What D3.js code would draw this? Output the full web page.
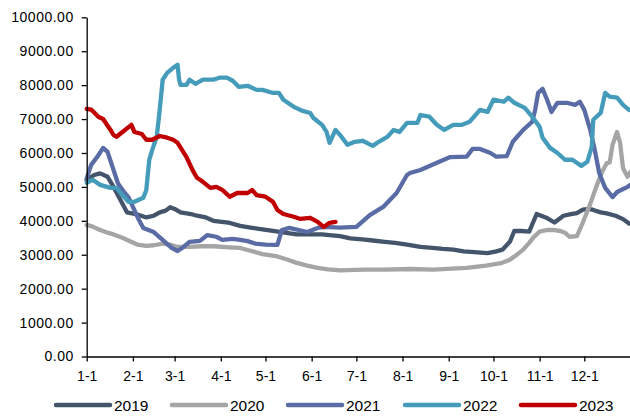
<!DOCTYPE html>
<html>
<head>
<meta charset="utf-8">
<script src="https://cdn.jsdelivr.net/npm/d3@7"></script>
<style>
  html, body { margin: 0; padding: 0; background: #fff; }
  svg { display: block; font-family: "Liberation Sans", Arial, sans-serif; }
</style>
</head>
<body>
<svg id="chart" width="630" height="417"></svg>
<script>
// ---- data (x = day of year, y = value) ----
const monthStarts = [0, 31, 59, 90, 120, 151, 181, 212, 243, 273, 304, 334];
const monthLabels = ["1-1","2-1","3-1","4-1","5-1","6-1","7-1","8-1","9-1","10-1","11-1","12-1"];
const yTicks = [0,1000,2000,3000,4000,5000,6000,7000,8000,9000,10000];

const seriesNames = ["2019","2020","2021","2022","2023"];
const seriesColors = ["#44546A","#A5A5A5","#5A6CA5","#459CBA","#C00000"];

const days2019 = [0,5,9,14,18,24,27,33,40,45,49,53,56,59,63,70,74,80,85,95,103,110,118,125,133,141,150,158,163,170,177,185,192,200,207,215,224,232,239,246,253,260,269,275,279,284,287,292,297,302,305,309,314,320,325,329,333,337,340,345,349,355,360,364];
const vals2019 = [5200,5350,5400,5300,5000,4500,4250,4200,4100,4150,4250,4300,4400,4350,4250,4200,4150,4100,4000,3950,3850,3800,3750,3700,3650,3600,3600,3600,3580,3550,3480,3450,3420,3380,3350,3300,3230,3200,3170,3150,3100,3080,3050,3100,3150,3380,3700,3700,3680,4200,4150,4080,3950,4150,4200,4230,4330,4350,4320,4250,4220,4150,4050,3920];

const days2020 = [0,4,9,14,18,24,29,34,40,45,51,56,61,69,77,85,96,103,108,118,128,135,141,148,155,162,170,186,200,217,233,245,255,268,278,284,288,293,297,300,304,309,313,318,321,324,329,333,338,342,346,349,351,353,356,358,360,363,365];
const vals2020 = [3880,3830,3730,3650,3600,3500,3400,3300,3260,3280,3330,3300,3230,3230,3250,3250,3220,3200,3140,3020,2950,2850,2760,2680,2610,2570,2540,2560,2560,2580,2560,2590,2610,2680,2750,2850,2980,3150,3350,3520,3680,3730,3730,3700,3650,3530,3550,3950,4500,5000,5450,5700,5720,6250,6620,6300,5550,5300,5450];

const days2021 = [0,3,7,11,14,18,21,25,28,31,35,38,45,51,57,61,65,69,76,81,87,91,98,103,108,113,120,128,131,136,148,155,160,170,181,190,199,208,215,217,224,232,244,255,259,264,271,275,282,286,293,299,301,303,306,309,312,316,322,328,331,334,338,341,344,348,353,356,363,365];
const vals2021 = [5250,5650,5880,6150,6030,5500,5100,4850,4700,4410,4030,3790,3670,3440,3200,3110,3230,3380,3410,3580,3530,3440,3470,3440,3400,3330,3300,3290,3730,3790,3670,3790,3820,3800,3820,4170,4410,4820,5350,5410,5500,5650,5880,5890,6120,6120,6000,5890,5910,6330,6680,6920,7270,7770,7890,7570,7210,7480,7480,7420,7510,7270,6680,6090,5410,4970,4700,4850,5000,5060];

const days2022 = [0,4,9,16,20,24,28,32,38,40,42,44,47,49,51,54,58,61,62,63,67,69,73,78,85,89,94,98,102,108,114,118,125,129,132,139,145,150,152,158,161,163,167,171,175,180,185,188,192,196,202,206,210,215,222,224,230,235,240,246,252,257,264,269,273,280,283,287,294,299,304,306,311,316,321,326,332,336,339,340,345,348,351,356,360,364];
const vals2022 = [5120,5210,5060,4970,4970,4760,4560,4560,4680,4910,5800,6090,6480,7270,8160,8360,8510,8600,8160,8010,8010,8160,8040,8160,8160,8220,8220,8130,7950,7980,7860,7860,7770,7770,7570,7360,7240,7180,7040,6830,6620,6300,6680,6480,6240,6330,6360,6300,6210,6330,6480,6680,6620,6890,6890,7120,7070,6830,6680,6830,6830,6920,7270,7210,7570,7510,7630,7480,7330,7070,6770,6450,6150,6000,5800,5800,5620,5740,6180,6980,7180,7770,7660,7630,7420,7270];

const days2023 = [0,3,8,11,16,18,20,24,30,32,37,40,44,49,54,58,61,67,71,74,78,83,87,91,96,101,104,108,111,114,120,125,128,132,139,143,150,155,159,163,167];
const vals2023 = [7300,7280,7060,7000,6680,6530,6480,6620,6830,6620,6560,6390,6390,6500,6450,6390,6300,5880,5500,5270,5150,4970,5000,4910,4710,4820,4820,4820,4910,4760,4710,4560,4320,4200,4120,4060,4090,3970,3820,3940,3970];

const seriesDays = [days2019, days2020, days2021, days2022, days2023];
const seriesVals = [vals2019, vals2020, vals2021, vals2022, vals2023];

// ---- drawing ----
const svg = d3.select("#chart");
const x = d3.scaleLinear().domain([0, 365]).range([86.7, 630.5]);
const y = d3.scaleLinear().domain([0, 10000]).range([356.5, 17.3]);

const line = d3.line().x(d => x(d[0])).y(d => y(d[1])).curve(d3.curveLinear);

const g = svg.append("g");
seriesNames.forEach((name, i) => {
  const pts = seriesDays[i].map((d, j) => [d, seriesVals[i][j]]);
  g.append("path")
    .datum(pts)
    .attr("fill", "none")
    .attr("stroke", seriesColors[i])
    .attr("stroke-width", 4.3)
    .attr("stroke-linejoin", "round")
    .attr("stroke-linecap", "round")
    .attr("d", line);
});

// y axis
const yAxis = svg.append("g")
  .attr("transform", `translate(${x(0)},0)`)
  .call(d3.axisLeft(y).tickValues(yTicks).tickFormat(d3.format(".2f")).tickSize(5).tickSizeOuter(0).tickPadding(8));
yAxis.selectAll("text").attr("font-size", 14).attr("fill", "#000").attr("font-family", "Liberation Sans, Arial, sans-serif").style("letter-spacing", "0.5px");
yAxis.selectAll("line").attr("stroke", "#000").attr("stroke-width", 1.3);
yAxis.select(".domain").attr("stroke", "#000").attr("stroke-width", 1.3);

// x axis
const xAxis = svg.append("g")
  .attr("transform", `translate(0,${y(0)})`)
  .call(d3.axisBottom(x).tickValues(monthStarts).tickFormat((d, i) => monthLabels[i]).tickSize(5).tickSizeOuter(0).tickPadding(10));
xAxis.selectAll("text").attr("font-size", 14).attr("fill", "#000").attr("font-family", "Liberation Sans, Arial, sans-serif");
xAxis.selectAll("line").attr("stroke", "#000").attr("stroke-width", 1.3);
xAxis.select(".domain").attr("stroke", "#000").attr("stroke-width", 1.3);

// legend
const legendX = [56, 172, 288, 405, 521];
const legend = svg.append("g");
seriesNames.forEach((name, i) => {
  const lg = legend.append("g").attr("transform", `translate(${legendX[i]},405)`);
  lg.append("line").attr("x1", 0).attr("x2", 54).attr("y1", 0).attr("y2", 0)
    .attr("stroke", seriesColors[i]).attr("stroke-width", 4.5).attr("stroke-linecap", "round");
  lg.append("text").attr("x", 58).attr("y", 0).attr("dy", "0.36em")
    .attr("font-size", 15.5).attr("fill", "#000").text(name);
});
</script>
</body>
</html>
